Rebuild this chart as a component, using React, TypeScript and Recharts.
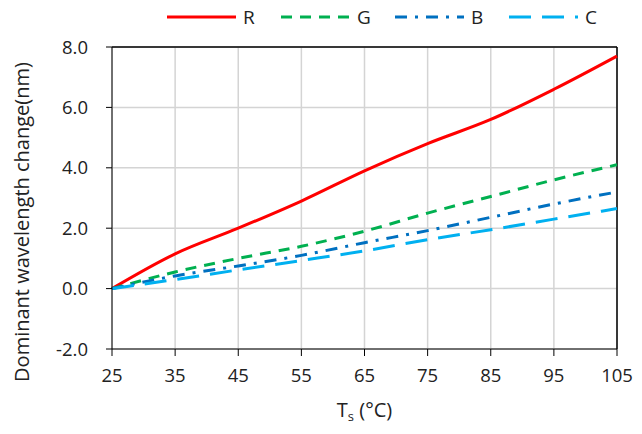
import React from "react";
import {
  LineChart,
  Line,
  XAxis,
  YAxis,
  CartesianGrid,
  ReferenceLine,
} from "recharts";

// temperature steps (°C)
const temps = [25, 35, 45, 55, 65, 75, 85, 95, 105];
// dominant wavelength change (nm) per colour
const rValues = [0, 1.15, 2.0, 2.9, 3.9, 4.8, 5.6, 6.6, 7.7];
const gValues = [0, 0.55, 1.0, 1.4, 1.9, 2.5, 3.05, 3.6, 4.1];
const bValues = [0, 0.42, 0.75, 1.1, 1.52, 1.92, 2.36, 2.8, 3.2];
const cValues = [0, 0.3, 0.62, 0.93, 1.25, 1.62, 1.95, 2.3, 2.65];

const xTicks = [25, 35, 45, 55, 65, 75, 85, 95, 105];
const yTicks = [-2, 0, 2, 4, 6, 8];

const series = [
  { key: "R", color: "#FF0000", dash: undefined },
  { key: "G", color: "#00B050", dash: "11 8" },
  { key: "B", color: "#0070C0", dash: "12 8 3 8" },
  { key: "C", color: "#00B0F0", dash: "22 11" },
];

const data = temps.map((t, i) => ({
  t,
  R: rValues[i],
  G: gValues[i],
  B: bValues[i],
  C: cValues[i],
}));

const FONT = "'Open Sans', 'Noto Sans', sans-serif";

const XLabel = (props: any) => {
  const { viewBox } = props;
  const cx = viewBox.x + viewBox.width / 2;
  return (
    <text
      x={cx}
      y={viewBox.y + 68}
      textAnchor="middle"
      fontSize={20}
      fill="#222"
      fontFamily={FONT}
    >
      T<tspan fontSize={13} dy={4}>s</tspan>
      <tspan dy={-4}> (°C)</tspan>
    </text>
  );
};

const YLabel = (props: any) => {
  const { viewBox } = props;
  const cy = viewBox.y + viewBox.height / 2 + 24;
  return (
    <text
      x={29}
      y={cy}
      transform={`rotate(-90, 29, ${cy})`}
      textAnchor="middle"
      fontSize={20}
      fill="#222"
      fontFamily={FONT}
    >
      Dominant wavelength change(nm)
    </text>
  );
};

const ChartLegend = () => (
  <div
    style={{
      position: "absolute",
      top: 6,
      left: 167,
      display: "flex",
      fontFamily: FONT,
      fontSize: 19,
      color: "#222",
    }}
  >
    {series.map((s) => (
      <div
        key={s.key}
        style={{ width: 114, display: "flex", alignItems: "center" }}
      >
        <svg width={69} height={22}>
          <line
            x1={0}
            y1={11}
            x2={69}
            y2={11}
            stroke={s.color}
            strokeWidth={3}
            strokeDasharray={s.dash}
          />
        </svg>
        <span style={{ marginLeft: 7, lineHeight: "22px" }}>{s.key}</span>
      </div>
    ))}
  </div>
);

const App: React.FC = () => {
  return (
    <div
      style={{
        position: "absolute",
        left: 0,
        top: 0,
        width: 642,
        height: 434,
        background: "#fff",
      }}
    >
      <ChartLegend />
      <LineChart
        width={642}
        height={434}
        data={data}
        margin={{ top: 47, right: 25, bottom: 55, left: 0 }}
      >
        <CartesianGrid stroke="#d4d4d4" strokeWidth={1.5} />
        <XAxis
          dataKey="t"
          type="number"
          domain={[25, 105]}
          ticks={xTicks}
          interval={0}
          stroke="#000"
          tickSize={7}
          tickMargin={13}
          tick={{ fill: "#222", fontSize: 18.5, fontFamily: FONT }}
          label={{ content: XLabel }}
        />
        <YAxis
          type="number"
          domain={[-2, 8]}
          ticks={yTicks}
          interval={0}
          width={112}
          stroke="#000"
          tickSize={6}
          tickMargin={18}
          tickFormatter={(v: number) => v.toFixed(1)}
          tick={{ fill: "#222", fontSize: 18.5, fontFamily: FONT }}
          label={{ content: YLabel }}
        />
        <ReferenceLine y={8} stroke="#000" strokeWidth={1.5} />
        <ReferenceLine x={105} stroke="#000" strokeWidth={1.5} />
        {series.map((s) => (
          <Line
            key={s.key}
            type="monotone"
            dataKey={s.key}
            stroke={s.color}
            strokeWidth={3}
            strokeDasharray={s.dash}
            dot={false}
            isAnimationActive={false}
          />
        ))}
      </LineChart>
    </div>
  );
};

export default App;
